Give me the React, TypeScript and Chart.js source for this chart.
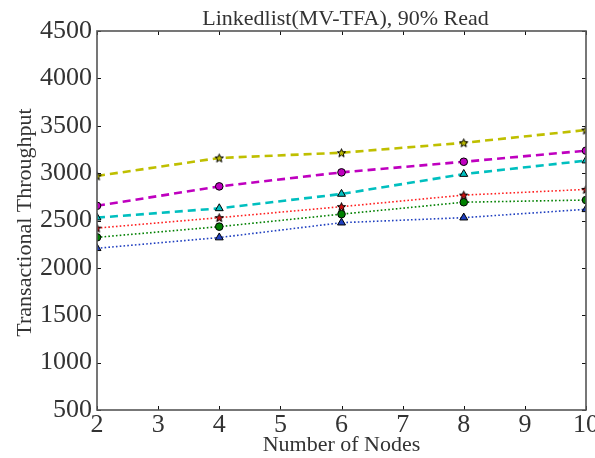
import React, { useEffect, useRef } from "react";
import { Chart, registerables } from "chart.js";

Chart.register(...registerables);

const nodes = [2, 4, 6, 8, 10];
const yellowStar = [2970, 3160, 3215, 3320, 3455];
const magentaCircle = [2655, 2860, 3008, 3120, 3237];
const cyanTriangle = [2530, 2628, 2780, 2990, 3132];
const redStar = [2420, 2530, 2646, 2768, 2828];
const greenCircle = [2322, 2435, 2567, 2693, 2716];
const blueTriangle = [2207, 2320, 2477, 2530, 2618];

const xTicks = [2, 3, 4, 5, 6, 7, 8, 9, 10];
const yTicks = [500, 1000, 1500, 2000, 2500, 3000, 3500, 4000, 4500];

const titleText = "Linkedlist(MV-TFA), 90% Read";
const xTitle = "Number of Nodes";
const yTitle = "Transactional Throughput";

const FONT = "Liberation Serif, DejaVu Serif, serif";

function starImage(fill: string): HTMLCanvasElement {
  const c = document.createElement("canvas");
  const s = 11;
  c.width = s;
  c.height = s;
  const ctx = c.getContext("2d")!;
  const cx = s / 2;
  const cy = s / 2 + 0.4;
  const R = 4.4;
  const r = 1.9;
  ctx.beginPath();
  for (let i = 0; i < 10; i++) {
    const rad = i % 2 === 0 ? R : r;
    const a = -Math.PI / 2 + (i * Math.PI) / 5;
    const px = cx + rad * Math.cos(a);
    const py = cy + rad * Math.sin(a);
    if (i === 0) ctx.moveTo(px, py);
    else ctx.lineTo(px, py);
  }
  ctx.closePath();
  ctx.fillStyle = fill;
  ctx.fill();
  ctx.strokeStyle = "#000";
  ctx.lineWidth = 1;
  ctx.stroke();
  return c;
}

const framePlugin = {
  id: "frame",
  afterDraw(chart: any) {
    const { ctx, chartArea } = chart;
    const { left, right, top, bottom } = chartArea;
    const xs = chart.scales.x;
    const ys = chart.scales.y;
    ctx.save();
    ctx.strokeStyle = "#111";
    ctx.lineWidth = 1;
    const tl = 4;
    ctx.beginPath();
    for (const v of xTicks) {
      const px = Math.round(xs.getPixelForValue(v)) + 0.5;
      ctx.moveTo(px, bottom);
      ctx.lineTo(px, bottom - tl);
      ctx.moveTo(px, top);
      ctx.lineTo(px, top + tl);
    }
    for (const v of yTicks) {
      const py = Math.round(ys.getPixelForValue(v)) + 0.5;
      ctx.moveTo(left, py);
      ctx.lineTo(left + tl, py);
      ctx.moveTo(right, py);
      ctx.lineTo(right - tl, py);
    }
    ctx.stroke();
    ctx.strokeStyle = "#555";
    ctx.lineWidth = 1.6;
    ctx.strokeRect(left, top, right - left, bottom - top);
    ctx.fillStyle = "#333";
    ctx.textAlign = "center";
    ctx.textBaseline = "alphabetic";
    ctx.font = `22px ${FONT}`;
    ctx.fillText(titleText, (left + right) / 2 + 4, 25);
    ctx.fillText(xTitle, (left + right) / 2, 451);
    ctx.save();
    ctx.translate(31, (top + bottom) / 2 + 2);
    ctx.rotate(-Math.PI / 2);
    ctx.fillText(yTitle, 0, 0);
    ctx.restore();
    ctx.restore();
  },
};

export default function App() {
  const ref = useRef<HTMLCanvasElement>(null);
  useEffect(() => {
    document.body.style.margin = "0";
    const mk = (
      label: string,
      data: number[],
      color: string,
      style: any,
      dotted: boolean,
      radius: number
    ) => ({
      label,
      data: nodes.map((x, i) => ({ x, y: data[i] })),
      borderColor: color,
      backgroundColor: color,
      borderWidth: dotted ? 1.6 : 2.6,
      borderDash: dotted ? [1.6, 2.2] : [8, 5],
      borderCapStyle: "butt",
      pointStyle: style,
      pointRadius: radius,
      pointBackgroundColor: color,
      pointBorderColor: "#000",
      pointBorderWidth: 1,
      tension: 0,
      fill: false,
    });
    const chart = new Chart(ref.current!, {
      type: "line",
      data: {
        datasets: [
          mk("A", yellowStar, "#bfbf00", starImage("#bfbf00"), false, 5),
          mk("B", magentaCircle, "#bf00bf", "circle", false, 3.8),
          mk("C", cyanTriangle, "#00bfbf", "triangle", false, 4.6),
          mk("D", redStar, "#ff2020", starImage("#d01010"), true, 5),
          mk("E", greenCircle, "#008000", "circle", true, 3.8),
          mk("F", blueTriangle, "#2040c0", "triangle", true, 4.6),
        ] as any,
      },
      options: {
        animation: false,
        responsive: false,
        maintainAspectRatio: false,
        layout: { padding: { top: 31, right: 9, left: 0, bottom: 0 } },
        plugins: {
          legend: { display: false },
          title: { display: false },
          tooltip: { enabled: false },
        },
        scales: {
          x: {
            type: "linear",
            min: 2,
            max: 10,
            ticks: {
              stepSize: 1,
              padding: 0,
              color: "#333",
              font: { family: FONT, size: 26 },
              maxRotation: 0,
              autoSkip: false,
              callback: (v: any) => String(v),
            },
            grid: { display: false, drawTicks: false },
            border: { display: false },
            afterFit(scale: any) {
              scale.height = 48;
              scale.paddingLeft = 0;
              scale.paddingRight = 0;
            },
          },
          y: {
            type: "linear",
            min: 500,
            max: 4500,
            ticks: {
              stepSize: 500,
              padding: 5,
              color: "#333",
              font: { family: FONT, size: 26 },
              autoSkip: false,
              callback: (v: any) => String(v),
            },
            grid: { display: false, drawTicks: false },
            border: { display: false },
            afterFit(scale: any) {
              scale.width = 97;
              scale.paddingTop = 0;
              scale.paddingBottom = 0;
            },
          },
        },
      },
      plugins: [framePlugin],
    });
    return () => chart.destroy();
  }, []);
  return <canvas ref={ref} width={595} height={458} style={{ display: "block" }} />;
}
